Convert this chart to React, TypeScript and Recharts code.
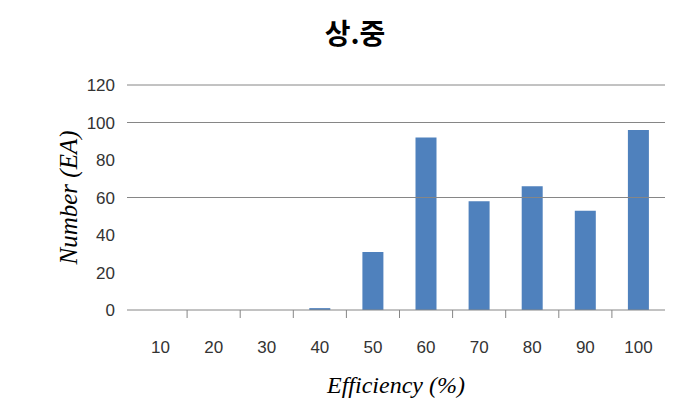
import { BarChart, Bar, XAxis, YAxis, ReferenceLine } from "recharts"

const categories = ["10", "20", "30", "40", "50", "60", "70", "80", "90", "100"]
const counts = [0, 0, 0, 1, 31, 92, 58, 66, 53, 96]
const yTicks = [0, 20, 40, 60, 80, 100, 120]
// only these gridlines show in the original
const gridValues = [60, 100, 120]

const data = categories.map((c, i) => ({ name: c, value: counts[i] }))

const AXIS_GRAY = "#868686"
const BAR_BLUE = "#4F81BD"
const SERIF = "'Liberation Serif', 'Times New Roman', serif"
const SANS = "'Liberation Sans', Arial, sans-serif"

// x tick: label + tick mark on the left boundary of each category
const XTick = (props: any) => {
  const { x, y, payload, index } = props
  const half = payload && payload.offset ? payload.offset : 26.55
  return (
    <g>
      {index > 0 && (
        <line x1={x - half} x2={x - half} y1={y} y2={y + 8} stroke={AXIS_GRAY} strokeWidth={1} />
      )}
      <text x={x} y={y + 43} textAnchor="middle" style={{ fontFamily: SANS, fontSize: 17 }} fill="#333">
        {payload.value}
      </text>
    </g>
  )
}

export default function App() {
  return (
    <div style={{ position: "fixed", left: 0, top: 0, width: 678, height: 418, background: "#fff" }}>
      <div
        style={{
          position: "absolute",
          left: 355,
          top: 32,
          transform: "translate(-50%, -50%)",
          fontFamily: "'Noto Sans CJK KR', sans-serif",
          fontWeight: 700,
          fontSize: 28,
          color: "#000",
          whiteSpace: "nowrap",
        }}
      >
        상.중
      </div>
      <BarChart
        width={678}
        height={418}
        data={data}
        margin={{ top: 85, right: 13, left: 0, bottom: 0 }}
        barSize={21}
      >
        <XAxis
          dataKey="name"
          height={108}
          padding={{ left: 7, right: 0 }}
          axisLine={{ stroke: AXIS_GRAY, strokeWidth: 1 }}
          tickLine={false}
          tickSize={0}
          tickMargin={0}
          interval={0}
          tick={<XTick />}
          label={{
            content: (p: any) => {
              const vb = p.viewBox
              return (
                <text
                  x={vb.x + vb.width / 2}
                  y={vb.y + 83}
                  textAnchor="middle"
                  style={{ fontFamily: SERIF, fontStyle: "italic", fontSize: 24 }}
                  fill="#000"
                >
                  Efficiency (%)
                </text>
              )
            },
          }}
        />
        <YAxis
          width={127}
          domain={[0, 120]}
          ticks={yTicks}
          axisLine={false}
          tickLine={false}
          tickSize={0}
          tickMargin={12}
          tick={{ fontSize: 17, fill: "#333", fontFamily: SANS }}
          label={{
            content: (p: any) => {
              const vb = p.viewBox
              const cx = 68
              const cy = vb.y + vb.height / 2
              return (
                <text
                  x={cx}
                  y={cy}
                  transform={`rotate(-90, ${cx}, ${cy})`}
                  textAnchor="middle"
                  dominantBaseline="central"
                  style={{ fontFamily: SERIF, fontStyle: "italic", fontSize: 25 }}
                  fill="#000"
                >
                  Number (EA)
                </text>
              )
            },
          }}
        />
        {gridValues.map((v) => (
          <ReferenceLine key={v} y={v} stroke={AXIS_GRAY} strokeWidth={1} />
        ))}
        <Bar dataKey="value" fill={BAR_BLUE} isAnimationActive={false} />
      </BarChart>
    </div>
  )
}
